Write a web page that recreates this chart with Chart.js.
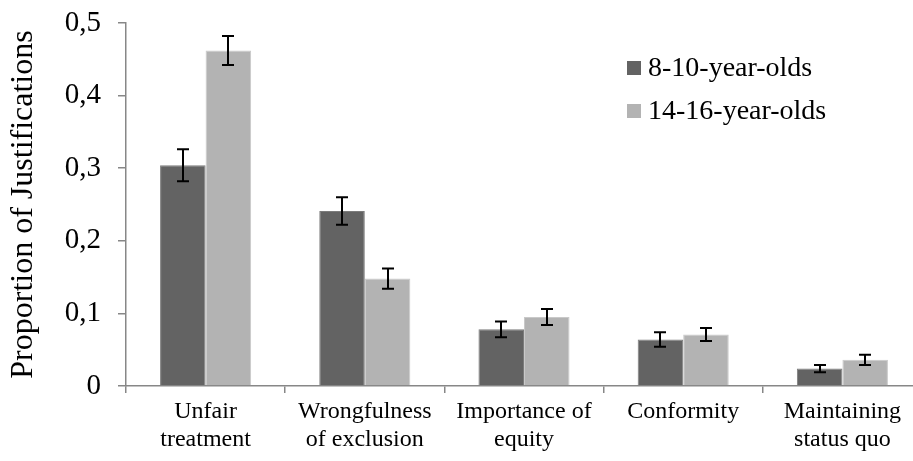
<!DOCTYPE html>
<html>
<head>
<meta charset="utf-8">
<script src="https://cdn.jsdelivr.net/npm/chart.js@4"></script>
<style>
  html, body { margin: 0; padding: 0; background: #fff; overflow: hidden; }
  #wrap { width: 913px; height: 461px; overflow: hidden; }
</style>
</head>
<body>
<div id="wrap"><canvas id="chart" width="940" height="461"></canvas></div>
<script>
// values
const categories = [
  ['Unfair', 'treatment'],
  ['Wrongfulness', 'of exclusion'],
  ['Importance of', 'equity'],
  ['Conformity'],
  ['Maintaining', 'status quo']
];
const youngLabel = '8-10-year-olds';
const oldLabel = '14-16-year-olds';
const youngValues = [0.304, 0.241, 0.078, 0.064, 0.024];
const oldValues = [0.462, 0.148, 0.095, 0.071, 0.036];
const youngErrors = [0.022, 0.019, 0.011, 0.010, 0.005];
const oldErrors = [0.020, 0.014, 0.011, 0.009, 0.007];
const yTicks = [0, 0.1, 0.2, 0.3, 0.4, 0.5];

const serif = "'Liberation Serif', 'Times New Roman', serif";
const axisGray = '#878787';

// draws the error whiskers on top of each bar
const errorBars = {
  id: 'errorBars',
  afterDatasetsDraw(chart) {
    const ctx = chart.ctx;
    const y = chart.scales.y;
    ctx.save();
    ctx.strokeStyle = '#000';
    ctx.lineWidth = 2;
    chart.data.datasets.forEach((ds, i) => {
      const meta = chart.getDatasetMeta(i);
      meta.data.forEach((bar, j) => {
        const v = ds.data[j];
        const e = ds.errors[j];
        const top = y.getPixelForValue(v + e);
        const bot = y.getPixelForValue(v - e);
        const x = Math.round(bar.x);
        ctx.beginPath();
        ctx.moveTo(x, top); ctx.lineTo(x, bot);
        ctx.moveTo(x - 6, top); ctx.lineTo(x + 6, top);
        ctx.moveTo(x - 6, bot); ctx.lineTo(x + 6, bot);
        ctx.stroke();
      });
    });
    ctx.restore();
  }
};

// legend sits inside the plot, top right
const insideLegend = {
  id: 'insideLegend',
  afterDraw(chart) {
    const ctx = chart.ctx;
    ctx.save();
    ctx.font = '28px ' + serif;
    ctx.textBaseline = 'middle';
    chart.data.datasets.forEach((ds, i) => {
      const cy = 68 + i * 43;
      ctx.fillStyle = ds.backgroundColor;
      ctx.fillRect(627, cy - 7, 14, 14);
      ctx.fillStyle = '#000';
      ctx.fillText(ds.label, 648, cy + 1);
    });
    ctx.restore();
  }
};

new Chart(document.getElementById('chart'), {
  type: 'bar',
  data: {
    labels: categories,
    datasets: [
      {
        label: youngLabel,
        data: youngValues,
        errors: youngErrors,
        backgroundColor: '#636363',
        borderColor: '#7c7c7c',
        borderWidth: 1
      },
      {
        label: oldLabel,
        data: oldValues,
        errors: oldErrors,
        backgroundColor: '#b3b3b3',
        borderColor: '#c9c9c9',
        borderWidth: 1
      }
    ]
  },
  options: {
    responsive: false,
    animation: false,
    layout: { padding: { top: 23, right: 18, left: 0, bottom: 0 } },
    datasets: { bar: { categoryPercentage: 0.572, barPercentage: 1.0 } },
    plugins: {
      legend: { display: false },
      tooltip: { enabled: false }
    },
    scales: {
      x: {
        grid: {
          offset: true,
          drawOnChartArea: false,
          color: axisGray,
          tickLength: 7,
          lineWidth: 1.5
        },
        border: { color: axisGray, width: 1.5 },
        ticks: {
          color: '#000',
          font: { family: serif, size: 24 },
          padding: 4,
          maxRotation: 0,
          autoSkip: false
        },
        afterFit(scale) { scale.height = 75; }
      },
      y: {
        min: 0,
        max: 0.5,
        afterBuildTicks(scale) { scale.ticks = yTicks.map(v => ({ value: v })); },
        grid: {
          drawOnChartArea: false,
          color: axisGray,
          tickLength: 8,
          lineWidth: 1.5
        },
        border: { color: axisGray, width: 1.5 },
        ticks: {
          color: '#000',
          font: { family: serif, size: 29 },
          padding: 17,
          callback: v => v === 0 ? '0' : v.toFixed(1).replace('.', ',')
        },
        title: {
          display: true,
          text: 'Proportion of Justifications',
          color: '#000',
          font: { family: serif, size: 32 },
          padding: { top: 4, bottom: 0 }
        },
        afterFit(scale) {
          scale.width = 126;
          scale.paddingTop = 0;
          scale.paddingBottom = 0;
        }
      }
    }
  },
  plugins: [errorBars, insideLegend]
});
</script>
</body>
</html>
